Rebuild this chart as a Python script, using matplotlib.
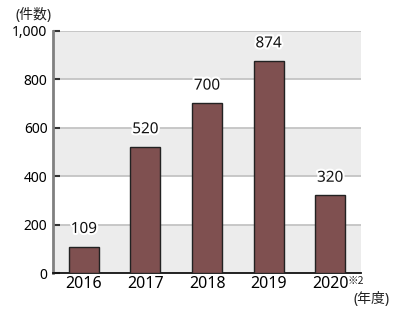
import matplotlib
matplotlib.use("Agg")
import matplotlib.pyplot as plt
import matplotlib.patheffects as pe

plt.rcParams['font.family'] = ['Noto Sans', 'Noto Sans CJK JP', 'DejaVu Sans']

years = ["2016", "2017", "2018", "2019", "2020"]
counts = [109, 520, 700, 874, 320]
yticks = [0, 200, 400, 600, 800, 1000]
ytick_labels = ["0", "200", "400", "600", "800", "1,000"]

fig = plt.figure(figsize=(4.0, 3.1), dpi=100)
ax = fig.add_axes([0.1325, 0.119, 0.77, 0.7826])

ax.set_xlim(-0.5, len(years) - 0.5)
ax.set_ylim(0, 1000)

# alternating bands
for i in range(len(yticks) - 1):
    if i % 2 == 0:
        ax.axhspan(yticks[i], yticks[i + 1], color='#ececec', zorder=0, lw=0)
for y in yticks[1:]:
    ax.axhline(y, color='#c4c4c4', lw=1.3, zorder=1)

x = range(len(years))
ax.bar(x, counts, width=0.49, color='#7f5050', edgecolor='#222222', linewidth=1.0, zorder=3)

for xi, v in zip(x, counts):
    ax.annotate(str(v), (xi, v), xytext=(0, 7), textcoords='offset points',
                ha='center', va='bottom', fontsize=11, color='#111111', zorder=4,
                path_effects=[pe.withStroke(linewidth=3, foreground='white')])

ax.set_xticks(list(x))
ax.set_xticklabels(years, fontsize=11.5)
ax.set_yticks(yticks)
ax.set_yticklabels(ytick_labels, fontsize=10)
ax.tick_params(axis='x', length=0, pad=2)
ax.tick_params(axis='y', direction='in', length=5, width=1.5, color='#333333', pad=4)

for s in ['top', 'right']:
    ax.spines[s].set_visible(False)
ax.spines['left'].set_color('#808080')
ax.spines['left'].set_linewidth(2)
ax.spines['bottom'].set_color('#111111')
ax.spines['bottom'].set_linewidth(1.3)

fig.text(0.038, 0.95, '(件数)', fontsize=10, ha='left', va='center', color='#222222')
fig.text(0.975, 0.035, '(年度)', fontsize=10, ha='right', va='center', color='#222222')
fig.text(0.869, 0.092, '※2', fontsize=7.5, ha='left', va='center', color='#222222',
         family=['Noto Sans CJK JP', 'DejaVu Sans'])

fig.savefig('out.png', dpi=100)
